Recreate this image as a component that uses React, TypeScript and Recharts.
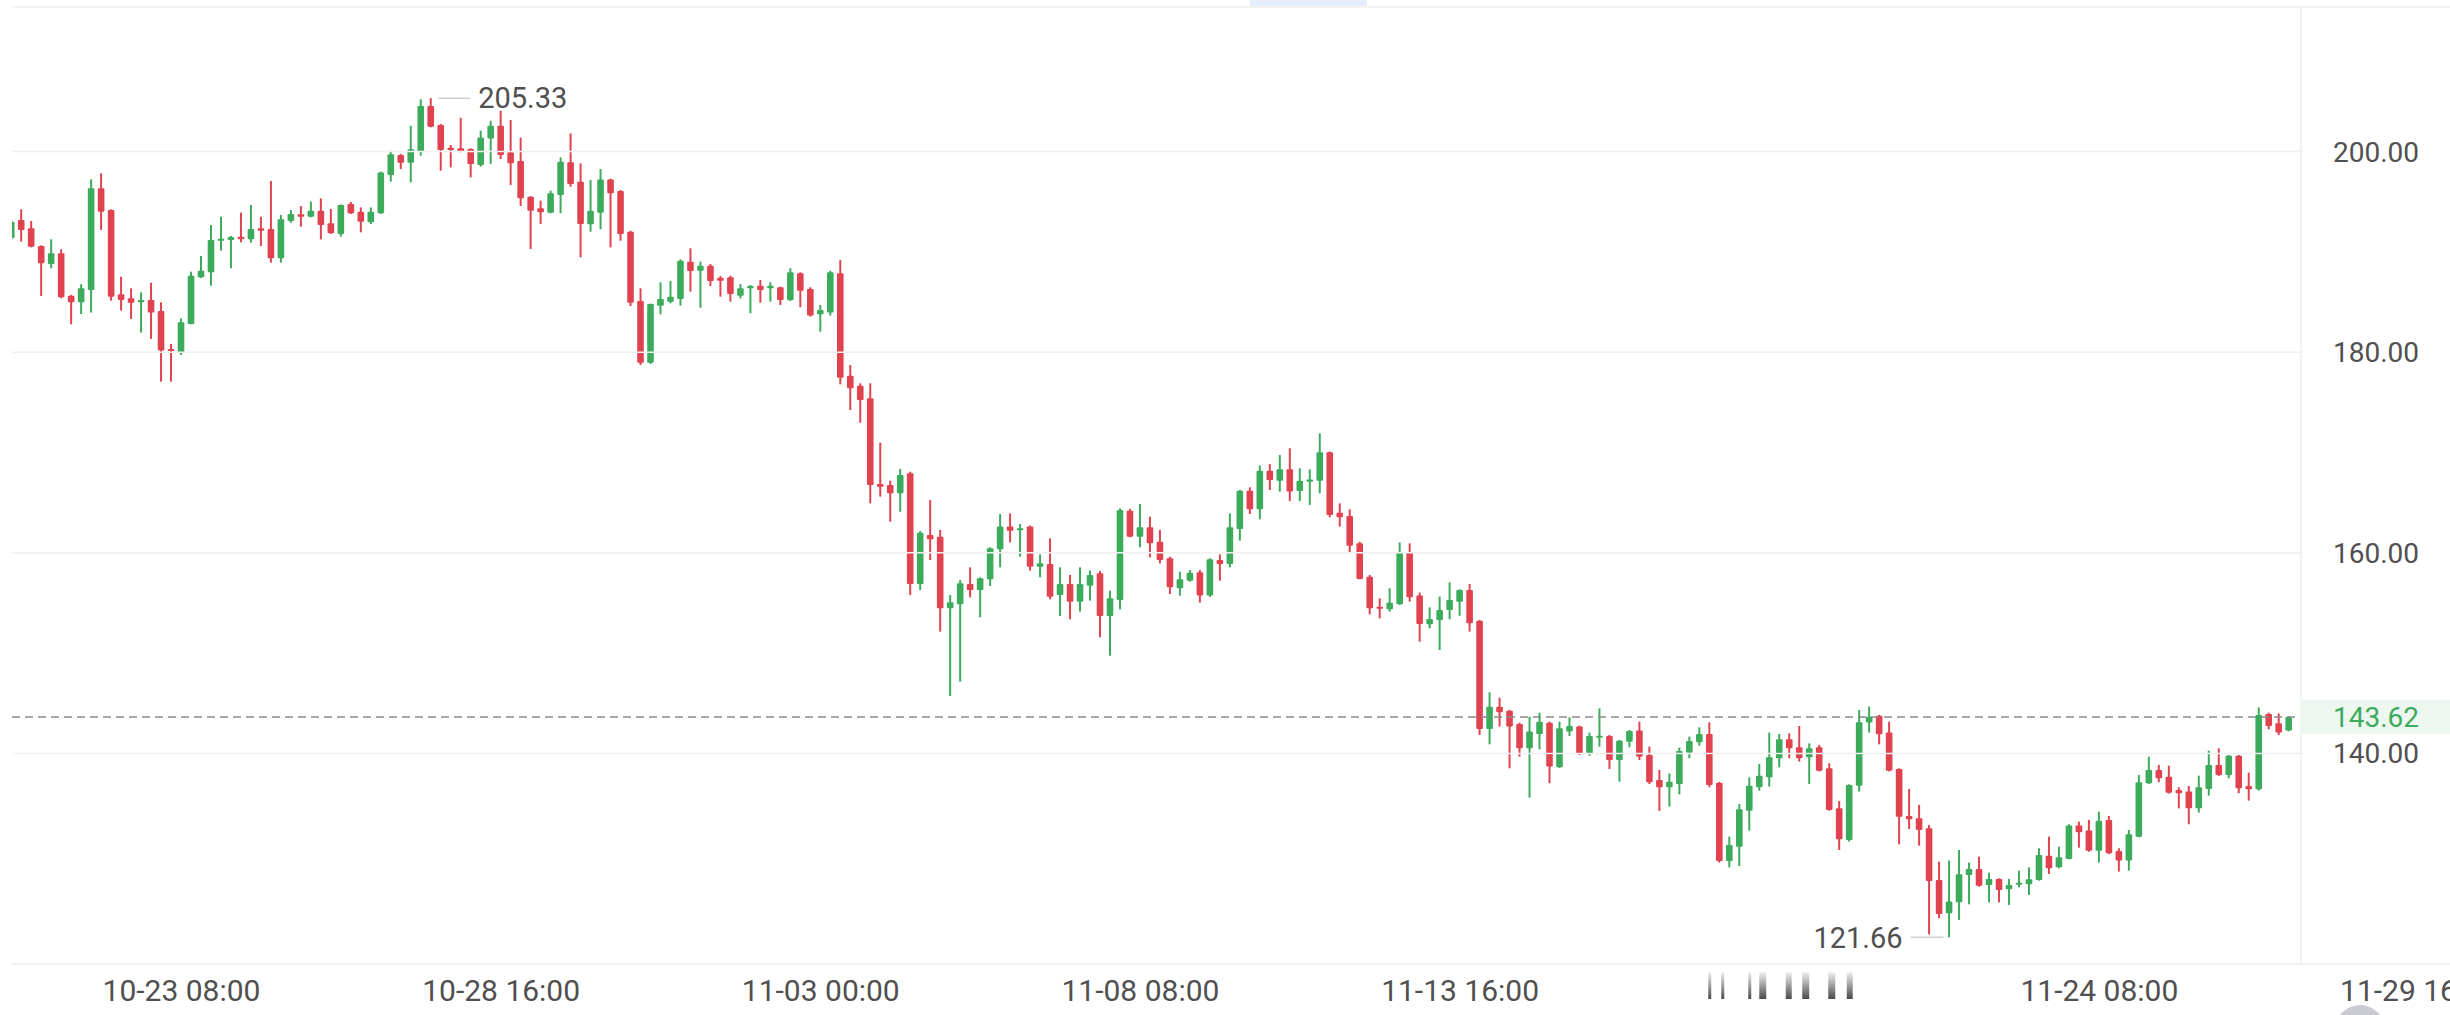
import { ComposedChart, Bar, XAxis, YAxis, ReferenceLine } from "recharts";

// 4h candles, first one at 10-20 12:00 (UTC)
const startTime = Date.UTC(2024, 9, 20, 12);
const STEP = 4 * 3600 * 1000;

// #region candle data
const open = [
  191.36, 193.19, 192.35, 190.59, 188.8, 189.86, 185.64, 184.98, 186.21, 196.34,
  194.18, 185.78, 185.38, 184.98, 185.21, 184.11, 180.33, 179.99, 182.81, 187.47,
  187.97, 191.12, 191.19, 191.52, 191.26, 192.35, 192.29, 189.36, 193.08, 193.75,
  193.51, 194.11, 192.85, 191.78, 194.78, 194.01, 192.95, 193.85, 197.67, 199.66,
  198.9, 199.99, 204.54, 202.65, 200.39, 200.33, 200.26, 198.66, 201.32, 202.59,
  199.93, 199.06, 195.51, 194.35, 193.91, 195.68, 198.93, 197.0, 192.75, 193.91,
  197.23, 196.07, 192.02, 185.11, 178.96, 184.64, 185.04, 185.3, 189.03, 188.13,
  188.63, 187.43, 187.47, 185.64, 186.37, 186.63, 186.37, 186.47, 185.21, 187.87,
  186.3, 183.78, 183.95, 187.87, 177.66, 176.66, 175.4, 166.86, 166.76, 165.93,
  167.92, 156.89, 161.77, 161.61, 154.46, 154.86, 156.89, 156.29, 157.35, 160.35,
  162.61, 162.27, 162.61, 158.62, 158.89, 155.79, 156.89, 155.13, 156.72, 157.95,
  153.7, 155.29, 164.2, 161.61, 162.54, 161.11, 159.45, 156.46, 157.22, 158.05,
  155.73, 159.28, 158.88, 162.37, 166.19, 164.33, 168.19, 167.19, 168.32, 166.16,
  167.09, 167.19, 170.02, 164.0, 163.67, 160.94, 157.62, 154.63, 154.36, 154.86,
  160.01, 155.73, 152.87, 153.3, 154.3, 155.13, 156.29, 153.23, 142.43, 144.66,
  144.26, 142.93, 140.51, 141.93, 143.06, 138.61, 142.17, 142.67, 139.94, 141.6,
  141.74, 139.34, 141.17, 142.27, 139.84, 137.35, 136.62, 136.95, 140.07, 141.1,
  141.93, 137.08, 129.27, 130.7, 134.29, 136.62, 137.61, 139.51, 141.4, 140.6,
  139.61, 140.6, 138.51, 134.52, 131.37, 136.78, 143.07, 143.76, 142.07, 138.45,
  133.76, 133.53, 132.53, 127.38, 124.05, 125.15, 127.88, 128.47, 126.88, 127.48,
  126.45, 126.95, 126.95, 127.38, 129.8, 128.64, 129.47, 132.8, 132.3, 130.3,
  133.36, 130.27, 129.31, 131.7, 137.02, 138.35, 137.68, 136.35, 136.19, 134.52,
  136.45, 138.84, 137.85, 139.77, 136.75, 136.42, 143.93, 143.0, 142.27,
];

const high = [
  193.19, 194.25, 193.08, 190.66, 191.26, 190.26, 185.71, 186.77, 197.24, 197.83,
  194.25, 187.53, 186.37, 185.97, 186.93, 184.98, 180.82, 183.38, 188.03, 189.59,
  192.68, 193.51, 191.59, 193.92, 194.68, 193.51, 197.07, 193.68, 194.18, 194.58,
  195.01, 195.34, 194.28, 194.74, 194.98, 194.44, 194.44, 198.0, 200.09, 199.76,
  202.58, 205.21, 205.33, 202.75, 200.66, 203.38, 200.33, 202.09, 203.08, 204.08,
  203.15, 201.39, 195.55, 195.11, 196.11, 199.43, 201.82, 198.83, 197.17, 198.26,
  197.3, 196.17, 192.12, 186.37, 184.85, 186.97, 187.1, 189.26, 190.36, 189.03,
  188.79, 187.6, 187.63, 186.8, 186.7, 187.2, 186.97, 186.53, 188.37, 187.97,
  186.47, 184.71, 188.13, 189.2, 178.72, 176.9, 176.9, 170.98, 167.19, 168.36,
  168.09, 162.17, 165.26, 162.27, 155.79, 157.29, 158.55, 157.55, 160.55, 163.87,
  163.93, 162.87, 162.71, 159.85, 161.44, 158.55, 157.79, 158.55, 158.22, 158.19,
  156.22, 164.43, 164.37, 164.87, 163.6, 162.27, 159.61, 158.12, 158.28, 158.28,
  159.45, 159.85, 163.93, 166.26, 166.53, 168.69, 168.85, 169.75, 170.42, 168.42,
  168.32, 171.91, 170.1, 164.93, 164.33, 161.11, 157.79, 155.46, 156.46, 161.04,
  160.94, 156.03, 154.56, 155.63, 157.06, 156.36, 156.89, 153.3, 146.09, 145.56,
  144.33, 143.06, 143.66, 144.06, 143.16, 143.16, 143.6, 142.76, 142.07, 144.49,
  141.83, 141.34, 142.33, 143.16, 140.67, 138.35, 138.01, 140.57, 141.67, 142.6,
  143.1, 137.15, 131.7, 134.96, 137.61, 138.94, 142.07, 141.93, 142.0, 142.73,
  141.0, 140.84, 139.01, 135.25, 136.92, 144.33, 144.66, 143.83, 143.16, 138.51,
  136.45, 134.86, 132.86, 129.21, 129.31, 130.37, 129.11, 129.7, 128.11, 127.54,
  127.48, 128.31, 128.64, 130.54, 131.7, 130.7, 132.93, 133.19, 133.36, 134.19,
  133.76, 130.54, 132.36, 137.85, 139.67, 138.84, 138.78, 136.62, 136.75, 137.78,
  140.27, 140.51, 139.84, 139.84, 138.08, 144.59, 144.06, 143.99, 143.7,
];

const low = [
  191.19, 191.03, 190.46, 185.61, 188.37, 185.38, 182.78, 183.81, 183.95, 192.19,
  185.14, 184.15, 183.31, 181.96, 181.33, 177.07, 177.07, 179.73, 182.78, 187.4,
  186.64, 190.13, 188.37, 190.96, 190.92, 190.59, 188.93, 188.93, 192.91, 192.52,
  193.45, 191.25, 191.8, 191.52, 193.78, 191.95, 192.78, 193.78, 197.0, 198.27,
  196.94, 199.59, 202.42, 198.1, 198.43, 199.93, 197.43, 198.5, 198.76, 199.26,
  196.67, 194.58, 190.29, 192.78, 193.85, 193.85, 196.5, 189.46, 192.02, 192.25,
  190.46, 191.12, 184.6, 178.73, 178.83, 183.78, 184.87, 184.64, 186.04, 184.44,
  186.6, 185.54, 185.04, 185.37, 183.88, 184.94, 185.04, 184.71, 185.11, 184.48,
  183.55, 182.05, 183.65, 176.8, 174.24, 172.97, 164.93, 165.6, 163.1, 164.1,
  155.79, 156.29, 159.28, 152.14, 145.72, 147.15, 155.56, 153.57, 156.69, 158.55,
  161.04, 159.61, 158.22, 157.55, 155.36, 153.7, 153.37, 154.13, 155.23, 151.57,
  149.74, 154.36, 161.55, 160.55, 159.55, 158.95, 155.89, 155.73, 157.12, 155.03,
  155.6, 157.22, 158.55, 161.21, 163.87, 163.34, 166.26, 166.1, 165.16, 165.16,
  164.77, 165.93, 163.54, 162.61, 159.95, 157.35, 153.86, 153.47, 154.13, 154.8,
  155.13, 151.14, 152.47, 150.31, 153.37, 153.73, 152.14, 141.83, 140.9, 142.67,
  138.51, 139.67, 135.59, 140.41, 137.02, 138.55, 141.74, 139.84, 139.77, 140.67,
  138.45, 137.18, 140.61, 139.34, 136.95, 134.26, 134.69, 135.92, 139.51, 140.77,
  136.62, 129.11, 128.64, 128.77, 132.3, 136.28, 136.68, 138.61, 139.51, 139.18,
  136.95, 138.2, 134.29, 130.37, 131.2, 136.19, 142.07, 140.9, 138.2, 130.93,
  132.46, 130.8, 121.96, 123.56, 121.66, 123.39, 124.95, 126.71, 125.15, 125.15,
  124.89, 126.65, 125.88, 127.31, 127.98, 128.54, 129.44, 130.6, 130.2, 129.11,
  129.95, 128.21, 128.31, 131.63, 136.95, 137.12, 136.0, 134.52, 132.93, 134.09,
  135.79, 137.75, 137.51, 136.02, 135.29, 136.28, 142.4, 141.83, 142.2,
];

const close = [
  193.02, 192.19, 190.52, 188.86, 189.86, 185.48, 184.98, 186.37, 196.34, 194.01,
  185.54, 185.21, 184.94, 185.21, 183.95, 180.16, 180.13, 182.98, 187.63, 188.13,
  191.19, 191.32, 191.49, 191.26, 192.29, 192.12, 189.36, 193.25, 193.78, 193.51,
  194.11, 192.68, 191.85, 194.68, 193.85, 193.01, 194.01, 197.93, 199.73, 198.9,
  200.23, 204.54, 202.48, 200.16, 200.16, 199.99, 198.76, 201.42, 202.59, 199.66,
  198.83, 195.34, 194.11, 193.95, 195.84, 199.0, 196.77, 192.78, 194.11, 197.23,
  195.84, 191.78, 184.94, 178.96, 184.81, 185.3, 185.54, 189.13, 188.1, 188.63,
  187.1, 187.13, 185.8, 186.37, 186.6, 186.2, 186.63, 185.21, 187.97, 186.14,
  183.65, 184.21, 187.97, 177.46, 176.4, 175.23, 166.76, 166.59, 165.93, 167.76,
  156.89, 162.01, 161.34, 154.46, 155.06, 156.96, 156.29, 157.45, 160.45, 162.61,
  162.21, 162.44, 158.62, 158.95, 155.63, 156.89, 155.13, 156.89, 157.79, 153.7,
  155.46, 164.27, 161.61, 162.54, 160.94, 159.28, 156.56, 157.35, 158.02, 155.73,
  159.35, 158.88, 162.54, 166.19, 164.33, 168.19, 167.26, 168.32, 166.1, 167.19,
  167.32, 170.02, 163.77, 163.54, 160.71, 157.39, 154.46, 154.46, 155.03, 160.05,
  155.56, 152.9, 153.4, 154.3, 155.29, 156.29, 152.97, 142.43, 144.66, 144.09,
  142.67, 140.51, 142.17, 143.16, 138.68, 142.5, 142.73, 139.94, 141.74, 141.77,
  139.34, 141.27, 142.23, 139.67, 137.12, 136.62, 137.18, 140.24, 141.24, 141.93,
  136.85, 129.27, 130.87, 134.42, 136.78, 137.78, 139.61, 141.4, 140.51, 139.51,
  140.51, 138.28, 134.36, 131.43, 136.85, 143.1, 143.66, 141.9, 138.28, 133.69,
  133.43, 132.36, 127.28, 123.99, 125.22, 127.94, 128.47, 126.81, 127.48, 126.38,
  126.88, 127.11, 127.44, 129.87, 128.54, 129.64, 132.8, 132.13, 130.3, 133.29,
  130.04, 129.31, 131.93, 137.12, 138.35, 137.51, 136.08, 136.02, 134.52, 136.62,
  138.84, 137.85, 139.77, 136.52, 136.42, 143.83, 142.73, 142.07, 143.62,
];
// #endregion

const xTickLabels = [
  "10-23 08:00",
  "10-28 16:00",
  "11-03 00:00",
  "11-08 08:00",
  "11-13 16:00",
  "11-19 00:00",
  "11-24 08:00",
  "11-29 16:00",
];
const hiddenTickLabel = "11-19 00:00"; // smudged in the source picture
const gridValues = [140, 160, 180, 200];
const lastPrice = 143.62;
const yTicks = [140, lastPrice, 160, 180, 200];

const UP = "#3dab5c";
const DOWN = "#e0434f";
const TEXT = "#505050";

// index space: candle i sits at 11.7 + 9.985 * i px
const X_MIN = 0.03;
const X_MAX = 244.1;
const X_DIV = 229.17;
const Y_MIN = 119.0;
const Y_MAX = 214.42;

const pad = (n: number) => String(n).padStart(2, "0");
const timeLabel = (i: number) => {
  const d = new Date(startTime + i * STEP);
  return `${pad(d.getUTCMonth() + 1)}-${pad(d.getUTCDate())} ${pad(d.getUTCHours())}:00`;
};

const data = open.map((o, i) => ({
  i,
  time: timeLabel(i),
  open: o,
  high: high[i],
  low: low[i],
  close: close[i],
}));

const tickIndex = xTickLabels.map((l) => {
  for (let i = 0; i < 300; i++) if (timeLabel(i) === l) return i;
  return -1;
});

const maxHigh = Math.max(...high);
const minLow = Math.min(...low);
const highIdx = high.indexOf(maxHigh);
const lowIdx = low.indexOf(minLow);

const Candle = (props: any) => {
  const { x, y, width, height, payload } = props;
  if (!payload || height == null) return null;
  const cx = x + width / 2;
  const ppu = height / (payload.high - payload.low);
  const yO = y + (payload.high - payload.open) * ppu;
  const yC = y + (payload.high - payload.close) * ppu;
  const color = payload.close >= payload.open ? UP : DOWN;
  const top = Math.min(yO, yC);
  const h = Math.max(Math.abs(yO - yC), 2);
  return (
    <g>
      <line x1={cx} x2={cx} y1={y} y2={y + height} stroke={color} strokeWidth={2} />
      <rect x={cx - 3.3} y={top} width={6.6} height={h} fill={color} rx={1} />
    </g>
  );
};

const XTick = (props: any) => {
  const { x, y, payload } = props;
  const label = timeLabel(payload.value);
  if (label === hiddenTickLabel) {
    const bars = [
      [-70, 3], [-57, 3], [-30, 3], [-17, 7],
      [9, 6], [26, 7], [52, 7], [70, 6],
    ];
    return (
      <g>
        {bars.map(([dx, w], k) => (
          <rect key={k} x={x + dx - w / 2} y={y - 8} width={w} height={27} fill="url(#smudge)" />
        ))}
      </g>
    );
  }
  return (
    <text x={x} y={y} dy="0.71em" textAnchor="middle" fill={TEXT} fontSize={30}>
      {label}
    </text>
  );
};

const YTick = (props: any) => {
  const { y, payload } = props;
  const v = payload.value;
  const isLast = Math.abs(v - lastPrice) < 1e-6;
  return (
    <g>
      {isLast && <rect x={2300} y={y - 17} width={150} height={34} fill="#edf7f0" />}
      <text x={2419} y={y} dy="0.355em" textAnchor="end" fill={isLast ? UP : TEXT} fontSize={28}>
        {v.toFixed(2)}
      </text>
    </g>
  );
};

const CandleChart = () => {
  return (
    <div
      style={{
        position: "absolute",
        left: 0,
        top: 0,
        width: 2450,
        height: 1015,
        overflow: "hidden",
        background: "#fff",
        fontFamily: "Roboto, sans-serif",
      }}
    >
      <div style={{ position: "absolute", left: 1250, top: 0, width: 117, height: 6, background: "#e4effb" }} />
      <ComposedChart width={2450} height={1015} data={data} margin={{ top: 7, right: 0, bottom: 0, left: 12 }}>
        <defs>
          <linearGradient id="smudge" x1="0" y1="0" x2="0" y2="1">
            <stop offset="0%" stopColor="#f2f2f2" />
            <stop offset="100%" stopColor="#4a4a4a" />
          </linearGradient>
        </defs>
        <XAxis
          type="number"
          dataKey="i"
          domain={[X_MIN, X_MAX]}
          allowDataOverflow
          ticks={tickIndex}
          interval={0}
          height={51}
          tickLine={false}
          tickMargin={10}
          axisLine={{ stroke: "#ececec", strokeWidth: 1.5 }}
          tick={(p: any) => <XTick {...p} />}
        />
        <YAxis
          orientation="right"
          mirror
          width={1}
          domain={[Y_MIN, Y_MAX]}
          allowDataOverflow
          ticks={yTicks}
          interval={0}
          tickLine={false}
          axisLine={false}
          tick={(p: any) => <YTick {...p} />}
        />
        <ReferenceLine
          segment={[{ x: X_MIN, y: Y_MAX }, { x: X_MAX, y: Y_MAX }]}
          stroke="#efefef"
          strokeWidth={1.5}
        />
        {gridValues.map((v) => (
          <ReferenceLine
            key={v}
            segment={[{ x: X_MIN, y: v }, { x: X_DIV + 0.2, y: v }]}
            stroke="#f0f0f0"
            strokeWidth={1.5}
          />
        ))}
        <ReferenceLine x={X_DIV} stroke="#eef0f2" strokeWidth={1.5} />
        <ReferenceLine
          segment={[{ x: X_MIN, y: lastPrice }, { x: X_DIV, y: lastPrice }]}
          stroke="#8a8a8a"
          strokeWidth={1.5}
          strokeDasharray="8 5"
        />
        <ReferenceLine
          segment={[{ x: highIdx + 0.7, y: maxHigh }, { x: highIdx + 3.9, y: maxHigh }]}
          stroke="#cfcfcf"
          strokeWidth={1.5}
          label={{ value: maxHigh.toFixed(2), position: "right", offset: 8, fill: TEXT, fontSize: 29 }}
        />
        <ReferenceLine
          segment={[{ x: lowIdx - 3.9, y: minLow }, { x: lowIdx - 0.6, y: minLow }]}
          stroke="#cfcfcf"
          strokeWidth={1.5}
          label={{ value: minLow.toFixed(2), position: "left", offset: 8, fill: TEXT, fontSize: 29 }}
        />
        <Bar
          dataKey={(d: any) => [d.low, d.high]}
          barSize={7}
          shape={(p: any) => <Candle {...p} />}
          isAnimationActive={false}
        />
      </ComposedChart>
      <div
        style={{
          position: "absolute",
          left: 2335,
          top: 1005,
          width: 50,
          height: 50,
          borderRadius: "50%",
          background: "#cbcbd4",
        }}
      />
    </div>
  );
}
;

export default function App() {
  return <CandleChart />;
}
